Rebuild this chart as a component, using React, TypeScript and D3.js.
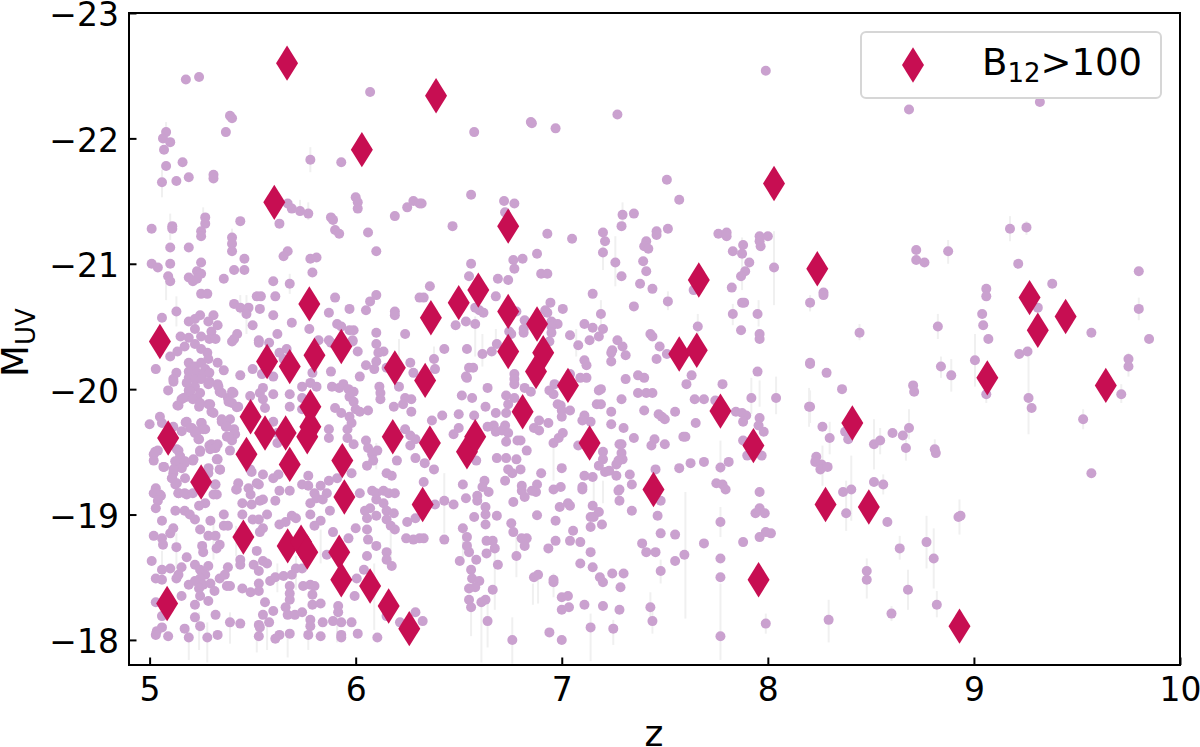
import * as d3 from "d3";
import React, { useEffect, useRef } from "react";

// galaxies: [z, M_UV]
const galaxiesBright: [number, number][] = [
  [5.176,-22.47],[5.24,-22.49],[6.07,-22.37],[5.39,-22.18],[5.40,-22.16],[5.37,-22.05],[5.08,-22.05],[5.065,-22.0],[5.10,-21.97],[5.07,-21.91],
  [5.08,-21.78],[5.16,-21.81],[5.06,-21.65],[5.13,-21.66],[5.19,-21.69],[5.31,-21.71],[5.31,-21.68],[5.78,-21.83],[5.93,-21.81],[6.0,-21.53],
  [6.01,-21.49],[6.01,-21.44],[5.67,-21.48],[5.69,-21.44],[5.73,-21.42],[5.77,-21.40],[5.63,-21.32],[6.28,-21.5],[6.25,-21.45],[6.31,-21.48],
  [6.19,-21.38],[5.88,-21.37],[5.89,-21.35],[5.90,-21.27],[5.92,-21.24],[6.06,-21.25],[6.10,-21.10],[5.01,-21.28],[5.11,-21.30],[5.11,-21.28],
  [5.27,-21.37],[5.27,-21.32],[5.25,-21.26],[5.25,-21.22],[5.44,-21.34],[5.40,-21.21],[5.40,-21.16],[5.40,-21.10],[5.10,-21.13],[5.19,-21.13],
  [5.01,-21.0],[5.04,-20.97],[5.10,-21.0],[5.25,-21.01],[5.46,-21.04],[5.67,-21.10],[5.65,-21.06],[5.78,-21.04],[5.81,-21.05],[5.79,-20.93],
  [5.68,-20.84],[5.60,-20.86],[5.41,-20.95],[5.46,-20.95],[5.36,-20.88],[5.23,-20.94],[5.25,-20.92],[5.19,-20.89],[5.21,-20.86],[5.23,-20.88],
  [5.09,-20.90],[5.10,-20.86],[5.25,-20.76],[5.28,-20.76],[5.52,-20.74],[5.54,-20.74],[5.61,-20.74],[5.90,-20.73],[6.10,-20.75],[6.07,-20.70],
  [5.97,-20.64],[6.05,-20.63],[6.19,-20.62],[6.19,-20.59],[5.87,-20.61],[5.60,-20.59],[5.535,-20.64],[5.41,-20.68],[5.44,-20.65],[5.48,-20.65],
  [5.47,-20.60],[5.06,-20.57],[5.13,-20.62],[5.245,-20.59],[5.31,-20.59],[5.19,-20.54],[5.22,-20.56],[5.22,-20.48],[5.285,-20.54],[5.33,-20.51],
  [5.30,-20.46],[5.50,-20.51],[5.69,-20.53],[5.91,-20.52],[5.93,-20.50],[5.97,-20.47],[5.99,-20.47],[5.775,-20.48],[5.62,-20.44],[5.425,-20.44],
  [6.10,-20.45],[6.24,-20.44],[5.15,-20.42],[5.19,-20.41],[5.25,-20.42],[5.41,-20.40],[5.53,-20.39],[5.82,-20.39],[5.87,-20.39],[5.985,-20.39],
  [6.31,-20.73],
];

const galaxiesLowZMid: [number, number][] = [
  [5.29,-20.40],[5.32,-20.40],[5.40,-20.38],[5.17,-20.34],[5.22,-20.36],[5.25,-20.32],[5.28,-20.29],[5.10,-20.26],[5.135,-20.30],
  [5.53,-20.37],[5.58,-20.37],[5.63,-20.29],[5.65,-20.24],[5.665,-20.32],[5.88,-20.37],[5.985,-20.38],[6.01,-20.30],
  [5.03,-20.16],[5.19,-20.21],[5.22,-20.18],[5.25,-20.21],[5.285,-20.24],[5.33,-20.21],[5.36,-20.15],[5.27,-20.16],[5.19,-20.14],[5.23,-20.13],
  [5.26,-20.12],[5.29,-20.13],[5.13,-20.13],[5.115,-20.08],[5.09,-19.99],[5.19,-20.09],[5.22,-20.08],[5.25,-20.08],[5.29,-20.06],[5.33,-20.04],[5.34,-19.98],
  [5.44,-20.11],[5.50,-20.16],[5.545,-20.12],[5.60,-20.10],[5.79,-20.13],[5.78,-20.05],[5.81,-20.02],[5.88,-20.14],[5.74,-20.02],[5.60,-19.96],
  [5.55,-20.01],[5.535,-19.97],[5.68,-19.96],[5.74,-19.93],[5.885,-20.02],[5.92,-20.01],[5.94,-20.04],[5.965,-20.0],[5.99,-19.98],[5.97,-19.94],
  [5.99,-19.90],[6.0,-19.84],[6.02,-19.82],[6.06,-19.83],[6.02,-20.10],[6.05,-20.19],[6.09,-20.16],[6.10,-20.22],[6.10,-20.36],[6.135,-20.30],[6.11,-20.29],
  [6.15,-20.17],[6.115,-20.02],[6.12,-19.97],[6.12,-19.92],[6.185,-19.86],[6.265,-20.21],[6.28,-20.13],[6.21,-20.02],[6.24,-19.93],[6.27,-19.92],[6.23,-19.88],[6.27,-19.82],
  [5.22,-20.02],[5.19,-19.99],[5.18,-19.94],[5.155,-19.92],[5.14,-19.87],[5.23,-19.93],[5.245,-19.97],[5.24,-19.86],[5.285,-19.88],[5.30,-19.82],
  [5.40,-19.98],[5.38,-19.93],[5.40,-19.89],[5.43,-19.86],[5.55,-19.92],[5.56,-19.85],[5.68,-19.86],[5.74,-19.84],[5.90,-19.85],[5.93,-19.81],[5.97,-19.78],[5.98,-19.73],[5.96,-19.68],
  [5.0,-19.72],[5.05,-19.78],[5.06,-19.73],[5.115,-19.70],[5.18,-19.74],[5.205,-19.69],[5.25,-19.73],[5.27,-19.68],[5.22,-19.65],[5.24,-19.60],
  [5.35,-19.76],[5.39,-19.76],[5.37,-19.70],[5.41,-19.68],[5.375,-19.62],[5.415,-19.64],[5.40,-19.59],[5.60,-19.74],[5.62,-19.65],[5.62,-19.57],
  [5.87,-19.68],[5.87,-19.61],[6.24,-19.68],[6.265,-19.63],[6.29,-19.60],[6.265,-19.55],[5.96,-19.61],[5.99,-19.56],[6.05,-19.59],[6.06,-19.53],
  [6.08,-19.48],[6.105,-19.51],[6.085,-19.43],[6.055,-19.39],[6.29,-19.45],[6.335,-19.41],[6.20,-19.43],[6.15,-19.33],[6.175,-19.31],
  [5.02,-19.48],[5.04,-19.51],[5.02,-19.43],[5.07,-19.38],[5.14,-19.51],[5.15,-19.45],[5.13,-19.41],[5.17,-19.41],[5.21,-19.43],[5.245,-19.51],
  [5.29,-19.55],[5.32,-19.53],[5.33,-19.56],[5.33,-19.44],[5.39,-19.51],[5.115,-19.33],[5.11,-19.29],[5.125,-19.24],[5.285,-19.33],[5.34,-19.36],[5.32,-19.24],
  [5.43,-19.25],[5.42,-19.20],[5.48,-19.21],[5.53,-19.24],[5.495,-19.34],[5.55,-19.32],[5.60,-19.29],[5.625,-19.32],[5.77,-19.31],[5.74,-19.24],[5.77,-19.23],
  [5.83,-19.23],[5.87,-19.27],[5.91,-19.29],[5.98,-19.33],
];

const galaxiesDenseCore: [number, number][] = [
  [5.116,-20.06],[5.18,-20.05],[5.285,-20.04],[5.334,-20.02],[5.35,-19.97],[5.197,-19.98],[5.165,-19.93],[5.21,-19.92],[5.245,-19.89],[5.135,-19.87],[5.294,-19.88],[5.31,-19.81],
  [5.383,-19.90],[5.407,-19.97],[5.423,-19.855],[5.488,-19.945],[5.175,-19.735],[5.253,-19.73],[5.197,-19.69],[5.156,-19.665],[5.23,-19.665],[5.26,-19.68],[5.237,-19.6],
  [5.35,-19.74],[5.375,-19.70],[5.383,-19.62],[5.245,-19.5],[5.30,-19.56],[5.318,-19.53],[5.294,-19.52],[5.027,-19.5],[5.067,-19.38],[5.132,-19.52],[5.148,-19.465],[5.124,-19.425],
  [5.172,-19.425],[5.213,-19.44],[5.156,-19.37],[5.116,-19.36],[5.108,-19.29],[5.132,-19.25],[5.172,-19.29],[5.326,-19.44],[5.342,-19.358],[5.286,-19.37],[5.318,-19.24],
  [5.423,-19.2],[5.05,-19.16],[5.14,-19.17],[5.18,-19.16],[5.326,-19.16],[5.488,-19.36],[5.52,-19.25],
];

const galaxiesLowZFaint: [number, number][] = [
  [6.02,-19.17],[6.08,-19.19],[6.10,-19.17],[6.135,-19.19],[6.16,-19.17],[6.19,-19.17],[6.10,-19.12],[6.135,-19.09],[6.07,-19.05],[6.15,-19.03],
  [6.045,-19.03],[6.055,-18.97],[6.10,-18.99],[6.15,-18.96],[6.185,-19.01],[6.17,-18.91],[6.19,-18.88],[6.25,-18.94],[6.29,-18.97],[6.245,-18.81],[6.28,-18.80],[6.31,-18.81],
  [5.14,-19.17],[5.17,-19.17],[5.21,-19.17],[5.31,-19.16],[5.27,-19.09],[5.03,-19.21],[5.02,-19.17],[5.055,-19.15],[5.04,-19.11],[5.03,-19.05],
  [5.125,-19.03],[5.17,-19.03],[5.195,-19.0],[5.24,-19.07],[5.22,-18.96],[5.245,-18.88],[5.295,-18.95],[5.285,-18.83],[5.32,-18.83],
  [5.49,-19.16],[5.45,-19.09],[5.495,-19.08],[5.535,-19.11],[5.55,-19.12],[5.61,-19.11],[5.63,-19.19],[5.68,-19.19],[5.80,-19.17],[5.81,-19.13],[5.78,-19.09],[5.86,-19.17],[5.84,-19.12],[5.875,-19.03],
  [5.45,-19.0],[5.50,-18.96],[5.53,-18.96],[5.57,-19.0],[5.55,-18.89],[5.535,-18.86],[5.36,-19.0],[5.36,-18.91],[5.38,-18.91],
  [5.69,-18.99],[5.71,-18.97],[5.78,-19.0],[5.83,-18.95],[5.80,-18.91],[5.63,-18.92],[5.66,-18.94],[5.89,-18.86],[6.0,-18.89],[5.965,-18.81],[6.055,-18.88],[6.06,-18.80],
  [6.10,-18.75],[6.15,-18.70],[6.15,-18.64],[6.175,-18.59],[6.055,-18.67],[6.04,-18.56],[6.005,-18.49],
  [5.06,-18.95],[5.115,-18.89],[5.10,-18.85],[5.02,-18.83],[5.06,-18.81],[5.065,-18.76],[5.13,-18.74],[5.255,-18.75],[5.26,-18.70],[5.34,-18.76],[5.325,-18.73],
  [5.01,-18.63],[5.18,-18.66],[5.44,-18.64],[5.44,-18.60],[5.52,-18.71],[5.55,-18.63],[5.57,-18.61],[5.505,-18.60],[5.53,-18.55],[5.86,-18.68],[5.71,-18.57],[5.74,-18.57],
  [5.06,-18.56],[5.10,-18.57],[5.155,-18.58],[5.14,-18.52],[5.13,-18.49],[5.03,-18.49],[5.06,-18.48],[5.22,-18.60],[5.245,-18.56],[5.285,-18.59],[5.27,-18.52],[5.245,-18.49],
  [5.22,-18.47],[5.19,-18.44],[5.26,-18.44],[5.24,-18.41],[5.295,-18.45],[5.34,-18.49],[5.38,-18.58],[5.365,-18.52],[5.375,-18.43],[5.39,-18.43],[5.45,-18.41],[5.49,-18.38],
  [5.53,-18.45],[5.53,-18.39],[5.585,-18.47],[5.61,-18.50],[5.65,-18.51],[5.69,-18.52],[5.68,-18.43],[5.68,-18.37],[5.745,-18.43],[5.78,-18.44],[5.80,-18.43],[5.79,-18.36],[5.79,-18.28],[5.83,-18.29],
  [5.155,-18.35],[5.245,-18.35],[5.22,-18.28],[5.285,-18.31],[5.315,-18.39],[5.03,-18.30],[5.06,-18.19],[5.06,-18.10],[5.035,-18.07],[5.03,-18.04],[5.09,-18.03],
  [5.56,-18.30],[5.68,-18.32],[5.66,-18.26],[5.67,-18.20],[5.705,-18.20],[5.74,-18.22],[5.60,-18.23],[5.55,-18.20],[5.53,-18.12],[5.58,-18.14],[5.535,-18.10],
  [5.915,-18.27],[5.915,-18.22],[5.89,-18.15],[5.93,-18.14],[5.98,-18.14],[5.995,-18.35],[5.78,-18.16],[5.78,-18.11],[5.84,-18.14],
  [5.22,-18.18],[5.32,-18.20],[5.39,-18.14],[5.44,-18.13],[5.17,-18.09],[5.19,-18.02],[5.245,-18.11],[5.28,-18.02],[5.33,-18.04],
  [5.53,-18.03],[5.63,-18.04],[5.61,-18.01],[5.68,-18.05],[5.77,-18.04],[5.83,-18.03],[5.93,-18.04],[5.93,-18.02],[6.01,-18.05],[6.105,-18.02],[6.15,-18.19],[6.215,-18.14],[6.29,-18.22],
];

const galaxiesMidZBright: [number, number][] = [
  [7.99,-22.54],[6.85,-22.13],[6.855,-22.12],[6.97,-22.08],[6.575,-22.05],[7.27,-22.19],[7.51,-21.67],[7.57,-21.51],[6.56,-21.55],[6.32,-21.48],[6.72,-21.50],[6.77,-21.48],[6.725,-21.41],
  [6.47,-21.30],[6.93,-21.24],[7.05,-21.20],[7.20,-21.25],[7.21,-21.18],[7.20,-21.09],[7.295,-21.39],[7.35,-21.40],[7.29,-21.30],[7.26,-21.01],[7.29,-20.90],
  [7.46,-21.26],[7.46,-21.23],[7.515,-21.28],[7.41,-21.18],[7.40,-21.14],[7.42,-21.12],[7.395,-21.02],[7.41,-20.94],[7.38,-20.84],[7.44,-20.80],[7.515,-20.70],[7.35,-20.66],
  [7.76,-21.24],[7.80,-21.25],[7.80,-21.22],[7.83,-21.10],[7.88,-21.15],[7.875,-21.08],[7.91,-21.01],[7.89,-20.94],[7.87,-20.90],[7.825,-20.81],[7.875,-20.69],[7.885,-20.69],
  [7.83,-20.60],[7.87,-20.47],[7.95,-20.60],[7.96,-20.44],[7.96,-20.40],[7.96,-21.22],[7.96,-21.18],[7.965,-21.14],[8.0,-21.22],[8.03,-20.97],[8.205,-20.69],[8.205,-20.2],[7.95,-20.14],
  [7.64,-20.79],[7.66,-20.50],[7.63,-20.11],[6.88,-21.08],[6.81,-21.04],[6.765,-21.03],[6.77,-20.96],[6.56,-21.0],[6.55,-20.90],[6.69,-20.88],[6.74,-20.87],[6.90,-20.92],[6.93,-20.92],
  [6.36,-20.82],[6.33,-20.73],[6.68,-20.74],[7.15,-20.76],[6.945,-20.69],[7.005,-20.64],[6.92,-20.63],[6.93,-20.61],[7.19,-20.60],[6.58,-20.65],[6.60,-20.63],[6.62,-20.61],[6.78,-20.62],
  [6.82,-20.55],[6.95,-20.54],[6.98,-20.52],[6.815,-20.48],[6.815,-20.45],[6.95,-20.50],[6.95,-20.45],[6.485,-20.51],[6.535,-20.54],[6.58,-20.52],[7.11,-20.52],[7.15,-20.49],[7.20,-20.48],
  [7.04,-20.43],[7.18,-20.42],[7.135,-20.39],[7.08,-20.35],[7.43,-20.44],[7.44,-20.42],[7.475,-20.34],[7.27,-20.39],[7.295,-20.34],[7.245,-20.31],[7.24,-20.29],[7.31,-20.27],[7.24,-20.22],
  [7.46,-20.24],[7.51,-20.28],[6.43,-20.32],[6.54,-20.32],[6.615,-20.28],[6.66,-20.30],[6.685,-20.36],[6.38,-20.24],[6.385,-20.16],[6.55,-20.17],[6.57,-20.17],[6.535,-20.10],
  [6.745,-20.46],[6.755,-20.44],[6.94,-20.38],[7.11,-20.23],[7.12,-20.19],[6.77,-20.12],[6.77,-20.08],[7.04,-20.12],[7.09,-20.09],[7.12,-20.09],[7.31,-20.08],[7.37,-20.11],[7.40,-20.09],
];

const galaxiesMidZFaint: [number, number][] = [
  [6.54,-20.09],[6.64,-20.01],[6.77,-20.04],[6.82,-20.01],[6.85,-19.98],[6.515,-19.95],[6.565,-19.93],[6.73,-19.95],[6.77,-19.93],[6.74,-19.88],
  [6.965,-20.04],[6.94,-19.99],[6.96,-19.96],[6.98,-19.88],[6.995,-19.87],[7.0,-19.83],[7.0,-19.78],[7.04,-19.83],[7.19,-20.0],[7.18,-19.99],[7.37,-19.97],[7.41,-19.97],[7.44,-19.97],
  [7.29,-19.92],[7.17,-19.88],[7.19,-19.88],[7.40,-19.83],[7.24,-19.82],[7.47,-19.80],[7.485,-19.78],[7.50,-19.76],[7.55,-19.82],[7.645,-19.92],[7.69,-19.92],[7.605,-20.04],[7.78,-20.04],[7.745,-19.91],
  [7.845,-19.82],[7.875,-19.81],[7.895,-19.79],[7.88,-19.74],[7.92,-19.93],[8.04,-19.93],[7.96,-19.77],[7.955,-19.71],[7.98,-19.66],[7.88,-19.59],[7.90,-19.47],[7.97,-19.47],[8.205,-19.86],
  [7.65,-19.73],[7.59,-19.62],[7.60,-19.62],[7.45,-19.6],[7.435,-19.55],[7.50,-19.56],[7.35,-19.61],[7.24,-19.72],[7.30,-19.69],[7.14,-19.74],[7.11,-19.79],[7.10,-19.75],
  [7.28,-19.56],[7.29,-19.56],[7.20,-19.5],[7.2,-19.44],[7.18,-19.39],[7.21,-19.34],[7.23,-19.35],[7.29,-19.49],[7.295,-19.44],[7.275,-19.43],[7.265,-19.40],[7.265,-19.31],[7.33,-19.32],[7.34,-19.24],
  [7.28,-19.2],[7.275,-19.19],[7.28,-19.11],[7.34,-19.03],[7.455,-19.36],[7.57,-19.37],[7.625,-19.41],[7.69,-19.42],[7.81,-19.42],[7.77,-19.375],[7.75,-19.25],[7.78,-19.24],[7.795,-19.2],
  [7.96,-19.18],[7.48,-19.11],[7.465,-18.99],[7.77,-18.94],[7.94,-19.01],[7.96,-19.05],[7.985,-19.01],[7.96,-18.82],[7.99,-18.86],[8.015,-18.85],[7.88,-18.78],[7.69,-18.77],[7.55,-18.84],[7.48,-18.85],
  [7.39,-18.77],[7.41,-18.70],[7.455,-18.70],[7.595,-18.68],[7.55,-18.63],[7.77,-18.65],[7.48,-18.55],[7.77,-18.5],[7.43,-18.26],[7.44,-18.15],[7.77,-18.03],[7.99,-18.13],
  [7.14,-18.10],[7.25,-18.09],[7.0,-18.0],[6.94,-18.06],[6.76,-18.0],[6.64,-18.15],[6.325,-18.15],[7.11,-18.28],[7.20,-18.27],[7.28,-18.24],[7.0,-18.34],[7.03,-18.35],[7.0,-18.24],[7.035,-18.26],
  [6.96,-18.48],[6.96,-18.46],[6.865,-18.50],[6.885,-18.52],[7.245,-18.53],[7.30,-18.53],[7.285,-18.42],[7.20,-18.46],[7.185,-18.50],[7.15,-18.58],[7.09,-18.61],[7.14,-18.70],[6.935,-18.73],[6.97,-18.79],
  [7.04,-18.79],[7.09,-18.78],[7.055,-18.87],[6.78,-18.67],[6.83,-18.81],[6.805,-18.81],[6.82,-18.75],[6.505,-18.63],[6.585,-18.64],[6.69,-18.60],[6.635,-18.69],[6.675,-18.73],[6.665,-18.79],[6.635,-18.79],
  [6.54,-18.82],[6.54,-18.75],[6.55,-18.70],[6.52,-18.89],[6.43,-18.8],[6.33,-18.81],[6.56,-18.56],[6.565,-18.49],[6.60,-18.47],[6.58,-18.42],[6.55,-18.41],[6.665,-18.40],[6.55,-18.32],[6.56,-18.26],[6.63,-18.32],[6.61,-18.30],
  [6.63,-19.06],[6.63,-19.0],[6.63,-18.92],[6.685,-18.99],[6.575,-18.98],[6.59,-19.15],[6.59,-19.11],[6.535,-19.13],[6.475,-19.08],[6.43,-19.11],[6.385,-19.08],[6.52,-19.24],[6.625,-19.27],[6.615,-19.22],[6.645,-19.18],
  [6.725,-19.27],[6.80,-19.36],[6.74,-19.36],[6.76,-19.33],[6.90,-19.33],[6.806,-19.23],[6.806,-19.19],[6.82,-19.14],[6.88,-19.24],[6.875,-19.18],[6.855,-19.19],[6.765,-19.10],[6.755,-18.93],[6.765,-18.86],
  [6.88,-18.995],[6.97,-18.95],[6.99,-19.06],[7.03,-19.09],[7.04,-19.07],[6.96,-19.2],[6.995,-19.22],[7.0,-19.37],[7.11,-19.31],[7.15,-19.30],[7.1,-19.22],[7.1,-19.20],[7.15,-19.07],[7.18,-19.02],[7.155,-18.98],[7.14,-18.98],[7.195,-18.92],[7.14,-18.90],
  [6.96,-19.57],[6.985,-19.61],[7.005,-19.65],[7.08,-19.55],[6.83,-19.51],[6.78,-19.44],[6.73,-19.45],[6.685,-19.45],[6.585,-19.43],[6.785,-19.59],[6.80,-19.59],
  [6.67,-19.71],[6.68,-19.66],[6.725,-19.71],[6.71,-19.67],[6.74,-19.65],[6.73,-19.58],[6.73,-19.81],[6.63,-19.86],[6.64,-19.70],[6.68,-19.81],[6.575,-19.79],[6.50,-19.80],[6.50,-19.69],[6.475,-19.64],
  [6.42,-19.79],[6.37,-19.75],[6.865,-19.69],[6.89,-19.67],[6.89,-19.75],[6.935,-19.73],[6.38,-19.36],[6.33,-19.26],
];

const galaxiesHighZ: [number, number][] = [
  [8.685,-22.23],[9.32,-22.29],[8.72,-21.11],[8.72,-21.03],[8.76,-21.01],[8.875,-21.10],[9.175,-21.28],[9.255,-21.29],[9.215,-21.0],[9.8,-20.94],[9.38,-20.84],[9.80,-20.64],
  [9.06,-20.80],[9.06,-20.74],[9.04,-20.60],[9.045,-20.51],[9.07,-20.40],[9.31,-20.65],[9.57,-20.45],[9.85,-20.40],[8.825,-20.50],[8.445,-20.45],[8.27,-20.77],[8.27,-20.75],
  [9.22,-20.28],[9.26,-20.30],[9.75,-20.24],[9.75,-20.18],[9.005,-20.23],[8.84,-20.18],[8.89,-20.11],[8.205,-20.21],[8.285,-20.13],[8.36,-20.0],[8.705,-20.03],[8.71,-19.98],
  [9.06,-19.96],[9.265,-19.93],[9.28,-19.85],[9.715,-19.96],[9.53,-19.76],[9.57,-19.33],[8.20,-19.86],[8.265,-19.70],[8.30,-19.61],[8.375,-19.66],[8.39,-19.60],
  [8.605,-19.65],[8.655,-19.63],[8.685,-19.69],[8.67,-19.53],[8.515,-19.56],[8.545,-19.59],[8.81,-19.52],[8.815,-19.49],[8.235,-19.46],[8.23,-19.42],[8.26,-19.40],[8.255,-19.36],[8.29,-19.38],
  [8.515,-19.26],[8.56,-19.24],[8.365,-19.18],[8.405,-19.20],[8.38,-19.01],[8.58,-18.94],[8.925,-18.98],[8.935,-18.99],[8.64,-18.73],[8.77,-18.78],[8.805,-18.65],[8.48,-18.55],[8.48,-18.48],
  [8.68,-18.40],[8.82,-18.28],[8.60,-18.21],[8.295,-18.16],
];

// B12 > 100 subset: [z, M_UV]
const strongField: [number, number][] = [
  [5.667,-22.60],[6.39,-22.34],[6.03,-21.91],[5.605,-21.49],[5.775,-20.68],[5.05,-20.38],[5.57,-20.22],[5.68,-20.18],[5.80,-20.27],[5.93,-20.34],[6.19,-20.17],[6.337,-20.07],
  [5.49,-19.78],[5.56,-19.65],[5.66,-19.65],[5.78,-19.86],[5.78,-19.70],[5.765,-19.62],[5.09,-19.61],[5.47,-19.48],[5.68,-19.40],[5.935,-19.43],[6.18,-19.62],[5.25,-19.26],
  [5.945,-19.14],[6.325,-19.08],[5.455,-18.82],[5.67,-18.75],[5.735,-18.78],[5.765,-18.70],[5.92,-18.70],[5.93,-18.48],[6.07,-18.43],[6.16,-18.27],[6.26,-18.09],[5.085,-18.29],
  [8.03,-21.64],[6.74,-21.30],[7.665,-20.87],[6.595,-20.79],[6.50,-20.69],[6.365,-20.57],[6.74,-20.62],[6.88,-20.52],[6.74,-20.30],[6.91,-20.29],[6.875,-20.14],[7.57,-20.28],[7.655,-20.31],
  [7.03,-20.03],[6.81,-19.82],[7.77,-19.825],[7.93,-19.55],[7.135,-19.57],[6.36,-19.57],[6.54,-19.50],[6.58,-19.62],[7.445,-19.20],[7.955,-18.48],[8.24,-20.96],[9.27,-20.73],[9.445,-20.58],
  [9.31,-20.47],[9.065,-20.09],[9.64,-20.03],[8.41,-19.73],[8.28,-19.08],[8.49,-19.06],[8.93,-18.11],
];

// faint vertical uncertainty bars that are visible: [z, top, bottom]
const errorBars: [number, number, number][] = [
  [6.56,-18.32,-18.03],[6.61,-18.29,-17.82],[6.76,-18.18,-17.81],[6.64,-18.29,-17.94],[6.86,-18.45,-18.28],[6.885,-18.5,-18.29],[6.96,-18.53,-18.34],[7.14,-18.21,-17.83],[7.25,-18.16,-17.96],
  [7.60,-19.18,-18.17],[7.77,-18.45,-17.84],[7.77,-19.06,-18.82],[7.43,-18.38,-18.13],[7.44,-18.24,-18.05],[7.99,-18.21,-18.05],[7.48,-18.64,-18.45],[7.77,-19.59,-19.33],[7.2,-19.27,-19.09],
  [6.96,-19.57,-19.27],[6.675,-18.74,-18.24],[6.78,-18.82,-18.5],[6.52,-18.89,-18.66],[6.43,-19.33,-18.85],[7.155,-19.27,-18.98],[7.96,-20.07,-19.86],[8.04,-20.1,-19.8],[8.205,-19.99,-19.73],[7.92,-20.09,-19.8],
  [8.20,-20.01,-19.70],[8.30,-19.74,-19.48],[8.265,-19.55,-19.23],[8.405,-19.47,-18.95],[8.38,-19.27,-18.87],[8.515,-19.76,-19.36],[8.545,-19.69,-19.48],[8.685,-19.84,-19.60],[8.67,-19.60,-19.43],[8.81,-19.60,-19.45],
  [8.93,-19.12,-18.84],[8.77,-18.99,-18.57],[8.805,-18.89,-18.41],[8.64,-18.83,-18.64],[8.48,-18.65,-18.33],[8.68,-18.56,-18.24],[8.82,-18.39,-18.18],[8.60,-18.27,-18.15],[8.295,-18.32,-17.98],
  [9.005,-20.44,-20.02],[9.265,-20.34,-19.64],[9.53,-19.84,-19.68],[9.715,-20.04,-19.89],[8.84,-20.26,-20.09],[8.89,-20.24,-19.98],[9.75,-20.29,-20.10],[9.06,-20.02,-19.89],[8.56,-19.32,-19.16],
  [9.175,-21.38,-21.18],[9.255,-21.34,-21.23],[8.875,-21.19,-21.0],[8.825,-20.6,-20.4],[9.80,-20.73,-20.55],[8.445,-20.52,-20.39],[8.205,-20.75,-20.62],
  [8.03,-21.26,-20.67],[7.295,-21.49,-21.28],[7.26,-21.22,-20.82],[7.2,-21.14,-20.95],[7.955,-20.71,-20.5],[7.875,-21.21,-20.79],[7.83,-20.68,-20.51],[7.515,-20.78,-20.63],[7.66,-20.6,-20.39],[7.19,-20.71,-20.5],
  [6.74,-20.48,-20.18],[6.68,-20.48,-20.28],[6.615,-20.44,-20.18],[6.58,-20.58,-20.26],[6.38,-20.34,-20.15],[7.07,-20.48,-20.26],
  [5.08,-22.13,-21.96],[5.78,-21.93,-21.73],[5.06,-21.75,-21.53],[5.10,-21.40,-21.19],[5.08,-20.87,-20.71],[5.13,-20.74,-20.5],[5.26,-21.45,-21.27],[5.40,-21.28,-21.08],[5.73,-21.51,-21.38],[5.77,-21.49,-21.35],
  [5.44,-20.75,-20.6],[5.47,-20.75,-20.44],[5.68,-20.92,-20.76],[5.06,-18.71,-18.56],[5.28,-18.14,-17.82],[5.19,-18.08,-17.84],[5.52,-18.14,-17.90],[5.67,-18.08,-17.86],[5.57,-18.16,-17.92],[5.24,-18.22,-17.92],
  [6.09,-18.61,-18.08],[6.17,-18.88,-18.56],[5.91,-18.3,-17.98],[5.31,-18.93,-18.64],[5.13,-18.85,-18.56],[5.39,-18.22,-17.97],[5.77,-18.14,-17.92],[6.10,-19.57,-19.36],[6.21,-20.40,-20.18],[5.62,-18.61,-18.38],
  [5.71,-18.67,-18.40],[5.83,-18.88,-18.61],[5.42,-18.91,-18.67],
];

const xTicks = [5, 6, 7, 8, 9, 10];
const yTicks = [-23, -22, -21, -20, -19, -18];
const legendLabel = { base: "B", sub: "12", rest: ">100" };

const font = "'DejaVu Sans', sans-serif";

export default function App() {
  const svgRef = useRef<SVGSVGElement>(null);

  useEffect(() => {
    const svg = d3.select(svgRef.current);
    svg.selectAll("*").remove();

    const margin = { top: 13, right: 20, bottom: 82, left: 129 };
    const width = 1200;
    const height = 747;

    const x = d3.scaleLinear().domain([4.9, 10]).range([margin.left, width - margin.right]);
    const y = d3.scaleLinear().domain([-17.8, -23]).range([height - margin.bottom, margin.top]);

    const diamond = "M0,-17.7L11,0L0,17.7L-11,0Z";
    const galaxies = [
      ...galaxiesBright,
      ...galaxiesLowZMid,
      ...galaxiesDenseCore,
      ...galaxiesLowZFaint,
      ...galaxiesMidZBright,
      ...galaxiesMidZFaint,
      ...galaxiesHighZ,
    ];

    // error bars
    svg
      .append("g")
      .selectAll("line")
      .data(errorBars)
      .join("line")
      .attr("x1", (d) => x(d[0]))
      .attr("x2", (d) => x(d[0]))
      .attr("y1", (d) => y(d[1]))
      .attr("y2", (d) => y(d[2]))
      .attr("stroke", "#f0f0f0")
      .attr("stroke-width", 2);

    // all galaxies
    svg
      .append("g")
      .selectAll("circle")
      .data(galaxies)
      .join("circle")
      .attr("cx", (d) => x(d[0]))
      .attr("cy", (d) => y(d[1]))
      .attr("r", 5)
      .attr("fill", "#caa1cf");

    // strong field sources
    svg
      .append("g")
      .selectAll("path")
      .data(strongField)
      .join("path")
      .attr("d", diamond)
      .attr("transform", (d) => `translate(${x(d[0])},${y(d[1])})`)
      .attr("fill", "#c70e52");

    // axes
    const axisBottom = d3.axisBottom(x).tickValues(xTicks).tickFormat(d3.format("d")).tickSize(-7.5).tickPadding(13);
    const axisLeft = d3
      .axisLeft(y)
      .tickValues(yTicks)
      .tickFormat((d) => `\u2212${Math.abs(+d)}`)
      .tickSize(-7.5)
      .tickPadding(10);

    const xAxisG = svg.append("g").attr("transform", `translate(0,${height - margin.bottom})`).call(axisBottom);
    const yAxisG = svg.append("g").attr("transform", `translate(${margin.left},0)`).call(axisLeft);
    [xAxisG, yAxisG].forEach((g) => {
      g.select(".domain").remove();
      g.selectAll("line").attr("stroke", "#000").attr("stroke-width", 2);
      g.selectAll("text").attr("font-family", font).attr("font-size", 33).attr("fill", "#000");
    });
    yAxisG.selectAll("text").attr("dy", "0.39em");

    // frame
    svg
      .append("rect")
      .attr("x", margin.left)
      .attr("y", margin.top)
      .attr("width", width - margin.left - margin.right)
      .attr("height", height - margin.top - margin.bottom)
      .attr("fill", "none")
      .attr("stroke", "#000")
      .attr("stroke-width", 2);

    // axis labels
    svg
      .append("text")
      .attr("x", 654)
      .attr("y", 746)
      .attr("text-anchor", "middle")
      .attr("font-family", font)
      .attr("font-size", 36)
      .text("z");

    const yLabel = svg
      .append("text")
      .attr("transform", "translate(28,377) rotate(-90)")
      .attr("font-family", font)
      .attr("font-size", 37);
    yLabel.append("tspan").text("M");
    yLabel.append("tspan").attr("font-size", 26).attr("dy", 7).text("UV");

    // legend
    const legend = svg.append("g");
    legend
      .append("rect")
      .attr("x", 861)
      .attr("y", 32)
      .attr("width", 300)
      .attr("height", 66)
      .attr("rx", 5)
      .attr("fill", "#fff")
      .attr("fill-opacity", 0.8)
      .attr("stroke", "#d6d6d6")
      .attr("stroke-width", 2);
    legend.append("path").attr("d", diamond).attr("transform", "translate(913,65)").attr("fill", "#c70e52");
    const legendText = legend
      .append("text")
      .attr("x", 982)
      .attr("y", 75)
      .attr("font-family", font)
      .attr("font-size", 37);
    legendText.append("tspan").text(legendLabel.base);
    legendText.append("tspan").attr("font-size", 26).attr("dy", 7).text(legendLabel.sub);
    legendText.append("tspan").attr("dy", -7).text(legendLabel.rest);
  }, []);

  return (
    <svg
      ref={svgRef}
      width={1200}
      height={747}
      style={{ position: "absolute", left: 0, top: 0, background: "#fff" }}
    ></svg>
  );
}
